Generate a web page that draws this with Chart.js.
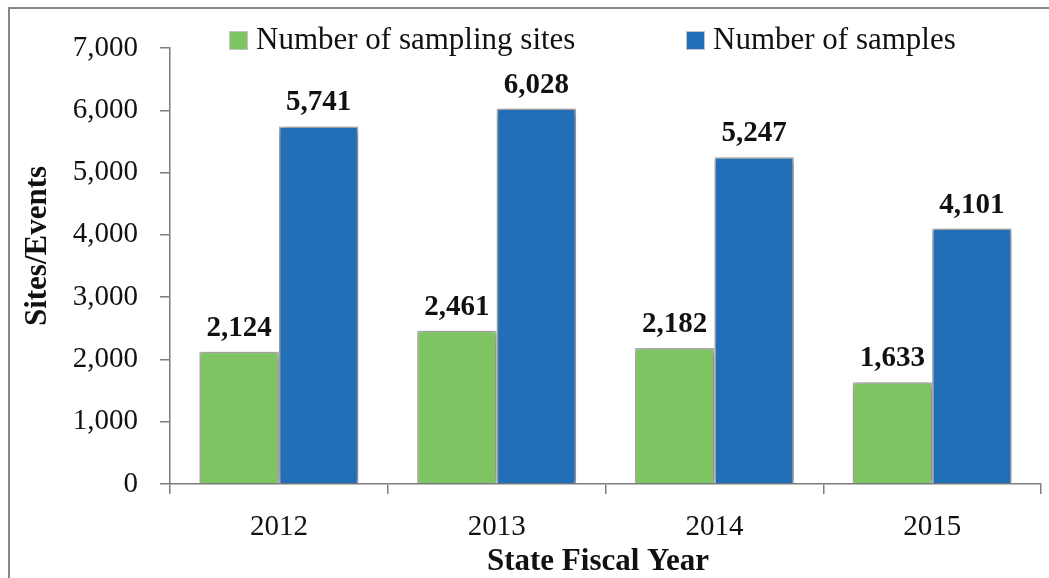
<!DOCTYPE html>
<html>
<head>
<meta charset="utf-8">
<script src="https://cdn.jsdelivr.net/npm/chart.js@4"></script>
<style>
  body { margin: 0; background: #fff; }
  #wrap { position: relative; width: 1049px; height: 578px; }
  #frame {
    position: absolute; left: 8px; top: 7px; right: 0; bottom: 0;
    border-left: 2px solid #8e8484; border-top: 2px solid #8e8484;
    pointer-events: none;
  }
  canvas { position: absolute; left: 0; top: 0; }
</style>
</head>
<body>
<div id="wrap">
  <canvas id="myChart" width="1049" height="578"></canvas>
  <div id="frame"></div>
</div>
<script>
const years = ["2012", "2013", "2014", "2015"];
const sites = [2124, 2461, 2182, 1633];
const samples = [5741, 6028, 5247, 4101];
const seriesNames = ["Number of sampling sites", "Number of samples"];
const seriesColors = ["#7ec463", "#226eb7"];

const serif = "'Liberation Serif', 'Times New Roman', serif";

// soft shadow behind each bar
const barShadow = {
  id: "barShadow",
  beforeDatasetDraw(chart) {
    const ctx = chart.ctx;
    ctx.save();
    ctx.shadowColor = "rgba(0, 0, 0, 0.45)";
    ctx.shadowBlur = 8;
    ctx.shadowOffsetX = 1;
    ctx.shadowOffsetY = 1;
  },
  afterDatasetDraw(chart) {
    chart.ctx.restore();
  },
};

// bold value above each bar
const valueLabels = {
  id: "valueLabels",
  afterDatasetsDraw(chart) {
    const ctx = chart.ctx;
    ctx.save();
    ctx.font = "bold 29px " + serif;
    ctx.fillStyle = "#111";
    ctx.textAlign = "center";
    ctx.textBaseline = "alphabetic";
    chart.data.datasets.forEach((ds, i) => {
      chart.getDatasetMeta(i).data.forEach((bar, j) => {
        ctx.fillText(ds.data[j].toLocaleString("en-US"), bar.x, bar.y - 16);
      });
    });
    ctx.restore();
  },
};

// legend row and the two axis titles
const extras = {
  id: "extras",
  afterDraw(chart) {
    const ctx = chart.ctx;
    ctx.save();
    const legendX = [229, 686];
    ctx.font = "31px " + serif;
    ctx.textBaseline = "middle";
    ctx.textAlign = "left";
    seriesNames.forEach((name, i) => {
      ctx.fillStyle = seriesColors[i];
      ctx.fillRect(legendX[i], 31, 19, 19);
      ctx.strokeStyle = "#c4c4c4";
      ctx.lineWidth = 1;
      ctx.strokeRect(legendX[i] + 0.5, 31.5, 18, 18);
      ctx.fillStyle = "#111";
      ctx.fillText(name, legendX[i] + 27, 41);
    });

    ctx.font = "bold 31px " + serif;
    ctx.textAlign = "center";
    ctx.fillText("State Fiscal Year", 598, 562);

    ctx.translate(38, 246);
    ctx.rotate(-Math.PI / 2);
    ctx.fillText("Sites/Events", 0, 0);
    ctx.restore();
  },
};

const ctx = document.getElementById("myChart");

new Chart(ctx, {
  type: "bar",
  data: {
    labels: years,
    datasets: [
      {
        label: seriesNames[0],
        data: sites,
        backgroundColor: seriesColors[0],
        borderColor: "#bdbdbd",
        borderWidth: 1.5,
      },
      {
        label: seriesNames[1],
        data: samples,
        backgroundColor: seriesColors[1],
        borderColor: "#bdbdbd",
        borderWidth: 1.5,
      },
    ],
  },
  options: {
    responsive: false,
    animation: false,
    locale: "en-US",
    categoryPercentage: 0.73,
    barPercentage: 1.0,
    layout: {
      padding: { top: 48, right: 8, left: 0, bottom: 0 },
    },
    plugins: {
      legend: { display: false },
      tooltip: { enabled: false },
    },
    scales: {
      y: {
        min: 0,
        max: 7000,
        afterFit(scale) {
          scale.width = 170;
        },
        ticks: {
          stepSize: 1000,
          padding: 22,
          color: "#111",
          font: { family: serif, size: 29 },
        },
        grid: {
          drawOnChartArea: false,
          tickLength: 10,
          color: "#7d7d7d",
          lineWidth: 1.5,
        },
        border: { color: "#7d7d7d", width: 1.5 },
      },
      x: {
        afterFit(scale) {
          scale.height = 94;
        },
        ticks: {
          padding: 16,
          color: "#111",
          font: { family: serif, size: 29 },
        },
        grid: {
          drawOnChartArea: false,
          tickLength: 10,
          color: "#7d7d7d",
          lineWidth: 1.5,
        },
        border: { color: "#7d7d7d", width: 1.5 },
      },
    },
  },
  plugins: [barShadow, valueLabels, extras],
});
</script>
</body>
</html>
